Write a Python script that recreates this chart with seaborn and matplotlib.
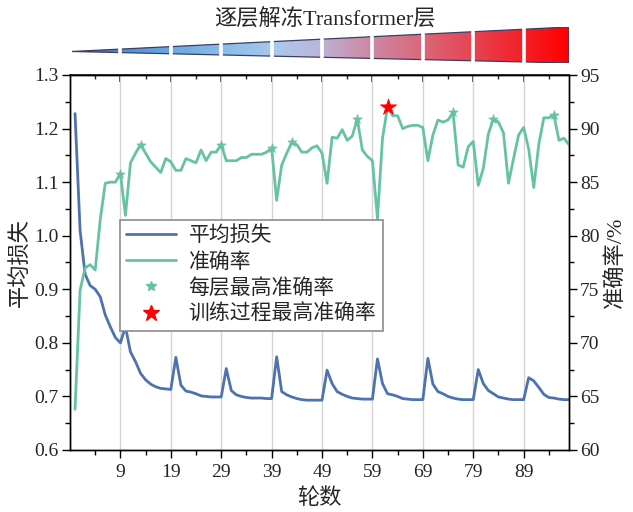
import numpy as np
import pandas as pd
import matplotlib
matplotlib.use("Agg")
import matplotlib.pyplot as plt
import seaborn as sns
from matplotlib.colors import LinearSegmentedColormap
from matplotlib.patches import Polygon
from matplotlib.lines import Line2D
from matplotlib.ticker import MultipleLocator, FixedLocator

# ---- training log -------------------------------------------------------
epochs = list(range(99))

avg_loss = [
    1.228, 1.010, 0.928, 0.907, 0.900, 0.886, 0.852, 0.830, 0.810, 0.800,
    0.830, 0.783, 0.765, 0.743, 0.731, 0.723, 0.718, 0.715, 0.714, 0.713,
    0.773, 0.721, 0.710, 0.708, 0.705, 0.701, 0.700, 0.699, 0.699, 0.699,
    0.752, 0.711, 0.703, 0.700, 0.698, 0.697, 0.697, 0.697, 0.696, 0.696,
    0.774, 0.709, 0.703, 0.699, 0.696, 0.694, 0.693, 0.693, 0.693, 0.693,
    0.749, 0.724, 0.709, 0.704, 0.700, 0.697, 0.696, 0.695, 0.695, 0.695,
    0.770, 0.724, 0.705, 0.703, 0.700, 0.696, 0.695, 0.694, 0.694, 0.694,
    0.771, 0.723, 0.709, 0.705, 0.700, 0.697, 0.695, 0.694, 0.694, 0.694,
    0.750, 0.724, 0.711, 0.705, 0.699, 0.697, 0.695, 0.694, 0.694, 0.694,
    0.735, 0.729, 0.717, 0.704, 0.698, 0.697, 0.695, 0.694, 0.694,
]

accuracy = [
    63.8, 74.9, 77.0, 77.3, 76.8, 81.5, 84.9, 85.0, 85.0, 85.8,
    81.9, 86.8, 87.7, 88.5, 87.7, 86.9, 86.4, 85.9, 87.2, 86.9,
    86.1, 86.1, 87.2, 87.0, 86.8, 88.0, 87.0, 87.8, 87.8, 88.5,
    87.0, 87.0, 87.0, 87.3, 87.3, 87.6, 87.6, 87.6, 87.8, 88.2,
    83.3, 86.6, 87.7, 88.7, 88.5, 87.8, 87.8, 88.2, 88.4, 87.7,
    84.9, 89.2, 89.1, 89.9, 88.9, 89.3, 90.9, 88.0, 87.4, 87.0,
    81.6, 89.1, 92.0, 91.2, 91.2, 90.0, 90.2, 90.3, 90.3, 90.1,
    87.0, 89.4, 90.8, 90.6, 90.8, 91.5, 86.6, 86.4, 88.3, 88.8,
    84.7, 86.3, 89.5, 90.9, 90.6, 89.6, 84.9, 87.2, 89.4, 90.1,
    88.1, 84.5, 88.5, 91.0, 91.0, 91.3, 88.9, 89.1, 88.5,
]

epoch_ticks = [9, 19, 29, 39, 49, 59, 69, 79, 89]
epochs_per_layer = 10

title_text = "逐层解冻Transformer层"
x_label = "轮数"
loss_label = "平均损失"
acc_label = "准确率/%"
legend_labels = ["平均损失", "准确率", "每层最高准确率", "训练过程最高准确率"]

LOSS_COLOR = "#4c72b0"
ACC_COLOR = "#66c2a5"
BEST_COLOR = "#ff0000"

# ---- data frame ---------------------------------------------------------
df = pd.DataFrame({"epoch": epochs, "loss": avg_loss, "acc": accuracy})
df["layer"] = df["epoch"] // epochs_per_layer
layer_best = df.loc[df.groupby("layer")["acc"].idxmax()]
overall_best = df.loc[[df["acc"].idxmax()]]

# ---- style --------------------------------------------------------------
sns.set_theme(style="white")
plt.rcParams["font.family"] = ["Liberation Serif", "Noto Sans CJK SC"]
plt.rcParams["axes.unicode_minus"] = False

W, H = 633, 512
fig = plt.figure(figsize=(W / 100, H / 100), dpi=100)
ax_left, ax_right, ax_top, ax_bottom = 70, 569, 75, 450
ax = fig.add_axes([ax_left / W, 1 - ax_bottom / H,
                   (ax_right - ax_left) / W, (ax_bottom - ax_top) / H])

x_min, x_max = -1, 98
minor_x = [t - 5 for t in epoch_ticks] + [epoch_ticks[-1] + 5]

# loss curve
sns.lineplot(data=df, x="epoch", y="loss", ax=ax, color=LOSS_COLOR,
             linewidth=2, legend=False)
ax.set_xlim(x_min, x_max)
ax.set_ylim(0.6, 1.3)
ax.yaxis.set_major_locator(MultipleLocator(0.1))
ax.yaxis.set_minor_locator(MultipleLocator(0.05))
ax.xaxis.set_major_locator(FixedLocator(epoch_ticks))
ax.xaxis.set_minor_locator(FixedLocator(minor_x))
ax.grid(axis="x", which="major", color="#d4d4d4", linewidth=1)
ax.grid(axis="y", visible=False)

# accuracy curve on the right axis
ax2 = ax.twinx()
sns.lineplot(data=df, x="epoch", y="acc", ax=ax2, color=ACC_COLOR,
             linewidth=2, legend=False)
sns.scatterplot(data=layer_best, x="epoch", y="acc", ax=ax2, marker="*",
                s=50, color=ACC_COLOR, edgecolor=ACC_COLOR, linewidth=0.5,
                legend=False, zorder=4)
sns.scatterplot(data=overall_best, x="epoch", y="acc", ax=ax2, marker="*",
                s=150, color=BEST_COLOR, edgecolor=BEST_COLOR, linewidth=0.5,
                legend=False, zorder=5)
ax2.set_ylim(60, 95)
ax2.yaxis.set_major_locator(MultipleLocator(5))
ax2.yaxis.set_minor_locator(MultipleLocator(2.5))
ax2.set_xlim(x_min, x_max)
ax2.grid(False)

# spines and ticks
for a in (ax, ax2):
    for s in a.spines.values():
        s.set_color("black")
        s.set_linewidth(1.0)

ax.tick_params(axis="both", which="major", direction="out", length=6,
               width=1, color="black", labelsize=14, pad=2,
               bottom=True, left=True)
ax.tick_params(axis="both", which="minor", direction="out", length=3.5,
               width=1, color="black", bottom=True, left=True)
ax.tick_params(axis="x", which="major", pad=4)
ax2.tick_params(axis="y", which="major", direction="out", length=6,
                width=1, color="black", labelsize=14, pad=2, right=True)
ax2.tick_params(axis="y", which="minor", direction="out", length=3.5,
                width=1, color="black", right=True)
ax.set_yticklabels([f"{v:.1f}" for v in ax.get_yticks()])

top = ax.secondary_xaxis("top")
top.set_xticks(epoch_ticks)
top.xaxis.set_minor_locator(FixedLocator(minor_x))
top.tick_params(which="major", direction="in", length=5, labeltop=False)
top.tick_params(which="minor", direction="in", length=3, labeltop=False)

ax.set_xlabel(x_label, fontsize=16, labelpad=5)
ax.set_ylabel(loss_label, fontsize=16)
ax.yaxis.set_label_coords(-0.076, 0.5)
ax2.set_ylabel(acc_label, fontsize=16, labelpad=4)

# legend
handles = [
    Line2D([], [], color=LOSS_COLOR, linewidth=2),
    Line2D([], [], color=ACC_COLOR, linewidth=2),
    Line2D([], [], color=ACC_COLOR, marker="*", linestyle="none", markersize=7),
    Line2D([], [], color=BEST_COLOR, marker="*", linestyle="none", markersize=12),
]
leg = ax2.legend(handles, legend_labels, loc="upper left",
                 bbox_to_anchor=(0.100, 0.613), borderaxespad=0,
                 fontsize=15, frameon=True, fancybox=False,
                 edgecolor="#8c8c8c", framealpha=1, borderpad=0.3,
                 labelspacing=0.3, handlelength=2.4, handletextpad=0.6)
leg.get_frame().set_linewidth(1.2)

# layer-unfreezing wedge above the plot
wedge_top, wedge_bottom = 27, 63
wax = fig.add_axes([ax_left / W, 1 - wedge_bottom / H,
                    (ax_right - ax_left) / W, (wedge_bottom - wedge_top) / H])
wax.set_xlim(x_min, x_max)
wax.set_ylim(0, 1)
wax.axis("off")
cmap = LinearSegmentedColormap.from_list(
    "unfreeze",
    [(0.0, "#2a66b0"), (0.12, "#5296d6"), (0.3, "#8abbe9"),
     (0.42, "#aac8ec"), (0.5, "#bcb4d8"), (0.58, "#c990ad"),
     (0.7, "#d96a7d"), (0.82, "#e8404e"), (1.0, "#ff0000")])
grad = np.linspace(0, 1, 512).reshape(1, -1)
img = wax.imshow(grad, extent=(x_min, x_max, 0, 1), aspect="auto",
                 cmap=cmap, origin="lower")
tip_x, tip_y = -0.6, 0.32
wedge = Polygon([(tip_x, tip_y), (x_max, 1.0), (x_max, 0.0)],
                closed=True, facecolor="none", edgecolor="#3a3f62",
                linewidth=0.9)
wax.add_patch(wedge)
img.set_clip_path(wedge)
for t in epoch_ticks:
    wax.axvline(t, color="white", linewidth=2.6, zorder=5)

fig.text(0.513, 0.963, title_text, ha="center", va="center", fontsize=16)

fig.savefig("out.png", dpi=100)
